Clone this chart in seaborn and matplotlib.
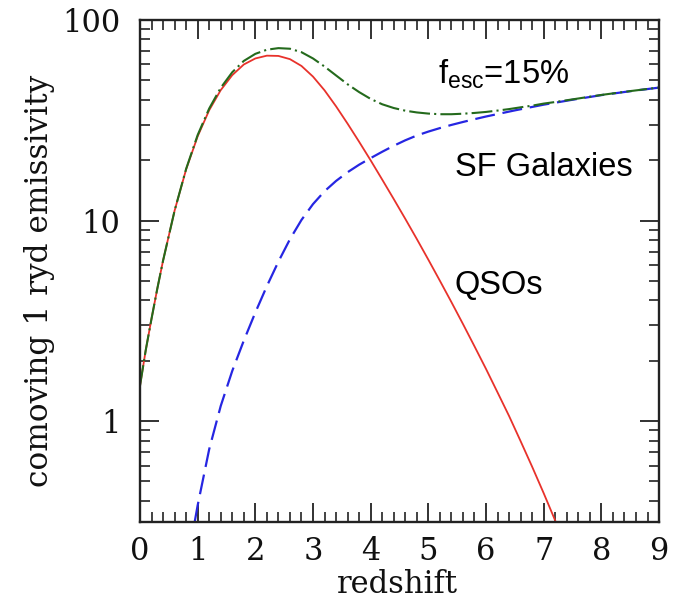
import numpy as np
import pandas as pd
import seaborn as sns
import matplotlib
matplotlib.use("Agg")
import matplotlib.pyplot as plt
from matplotlib.ticker import FixedLocator, LogLocator, NullFormatter, FixedFormatter

# Comoving 1 Ryd emissivity contributions versus redshift
z_qso = [0.0, 0.1, 0.2, 0.3, 0.4, 0.6, 0.8, 1.0, 1.2, 1.4, 1.6, 1.8, 2.0, 2.2,
         2.4, 2.6, 2.8, 3.0, 3.2, 3.4, 3.6, 3.8, 4.0, 4.2, 4.4, 4.6, 4.8, 5.0,
         5.2, 5.4, 5.6, 5.8, 6.0, 6.2, 6.4, 6.6, 6.8, 7.0, 7.2, 7.4]
qso = [1.50, 2.26, 3.24, 4.57, 6.31, 11.2, 18.0, 26.3, 35.5, 44.7, 53.1, 60.0,
       64.3, 66.4, 66.2, 63.8, 59.0, 52.2, 44.6, 37.1, 30.4, 24.7, 19.95, 16.0,
       12.8, 10.2, 8.09, 6.38, 5.01, 3.92, 3.05, 2.36, 1.82, 1.39, 1.06, 0.794,
       0.592, 0.437, 0.319, 0.231]

z_gal = [0.95, 1.0, 1.2, 1.4, 1.6, 1.8, 2.0, 2.2, 2.4, 2.6, 2.8, 3.0, 3.2, 3.4,
         3.6, 3.8, 4.0, 4.2, 4.4, 4.6, 4.8, 5.0, 5.2, 5.4, 5.6, 5.8, 6.0, 6.5,
         7.0, 7.5, 8.0, 8.5, 9.0]
galaxies = [0.316, 0.380, 0.724, 1.19, 1.78, 2.52, 3.48, 4.71, 6.24, 8.07,
            10.07, 12.08, 14.0, 15.76, 17.42, 18.99, 20.49, 22.03, 23.60, 25.13,
            26.55, 27.77, 28.91, 29.98, 31.01, 32.02, 33.02, 35.43, 37.83, 40.03,
            42.21, 44.15, 46.02]

z_tot = [0.0, 0.1, 0.2, 0.3, 0.4, 0.6, 0.8, 1.0, 1.2, 1.4, 1.6, 1.8, 2.0, 2.2,
         2.4, 2.6, 2.8, 3.0, 3.2, 3.4, 3.6, 3.8, 4.0, 4.2, 4.4, 4.6, 4.8, 5.0,
         5.2, 5.4, 5.6, 5.8, 6.0, 6.2, 6.4, 6.6, 6.8, 7.0, 7.2, 7.5, 8.0, 8.5, 9.0]
total = [1.50, 2.26, 3.24, 4.57, 6.31, 11.2, 18.1, 26.7, 36.2, 45.9, 54.9, 62.5,
         67.8, 71.1, 72.4, 71.9, 69.1, 64.3, 58.6, 52.9, 47.8, 43.7, 40.4, 38.0,
         36.4, 35.3, 34.6, 34.15, 33.9, 33.9, 34.1, 34.4, 34.8, 35.35, 35.96,
         36.7, 37.4, 38.3, 39.0, 40.2, 42.3, 44.2, 46.05]

x_ticks = [0, 1, 2, 3, 4, 5, 6, 7, 8, 9]
y_ticks = [1, 10, 100]
y_tick_labels = ["1", "10", "100"]

sns.set_style("ticks")
plt.rcParams["font.family"] = ["DejaVu Serif"]
plt.rcParams["mathtext.fontset"] = "custom"
plt.rcParams["mathtext.rm"] = "Liberation Sans"
plt.rcParams["mathtext.it"] = "Liberation Sans"

fig = plt.figure(figsize=(6.93, 6.06), dpi=100)
ax = fig.add_axes([0.202, 0.1386, 0.749, 0.8284])

df_q = pd.DataFrame({"z": z_qso, "e": qso})
df_g = pd.DataFrame({"z": z_gal, "e": galaxies})
df_t = pd.DataFrame({"z": z_tot, "e": total})

sns.lineplot(data=df_q, x="z", y="e", ax=ax, color="#e8322b", linewidth=1.3)
sns.lineplot(data=df_g, x="z", y="e", ax=ax, color="#2626e2", linewidth=1.6)
ax.lines[-1].set_linestyle((0, (9, 3.5)))
sns.lineplot(data=df_t, x="z", y="e", ax=ax, color="#246a1c", linewidth=1.5)
ax.lines[-1].set_linestyle((0, (10, 2, 1, 2)))

ax.set_yscale("log")
ax.set_xlim(0, 9)
ax.set_ylim(0.314, 100)

ax.xaxis.set_major_locator(FixedLocator(x_ticks))
ax.xaxis.set_minor_locator(FixedLocator(np.arange(0, 9.01, 0.2)))
ax.yaxis.set_major_locator(FixedLocator(y_ticks))
ax.yaxis.set_major_formatter(FixedFormatter(y_tick_labels))
ax.yaxis.set_minor_locator(LogLocator(base=10, subs=np.arange(2, 10)))
ax.yaxis.set_minor_formatter(NullFormatter())

ax.tick_params(which="both", direction="in", top=True, right=True,
               color="#222222", labelsize=22, labelcolor="#111111")
ax.tick_params(which="major", length=14, width=1.3)
ax.tick_params(which="minor", length=7, width=1.2)
ax.tick_params(axis="x", pad=10)
ax.tick_params(axis="y", pad=14)
for s in ax.spines.values():
    s.set_linewidth(1.7)
    s.set_color("#222222")

ax.set_xlabel("redshift", fontsize=22, color="#111111", va="center")
ax.xaxis.set_label_coords(0.495, -0.1235)
ax.set_ylabel("comoving 1 ryd emissivity", fontsize=22.5, color="#111111",
              va="center")
ax.yaxis.set_label_coords(-0.193, 0.48)

ann = dict(family="Liberation Sans", fontsize=23.5, color="black",
           transform=ax.transData)
ax.text(5.17, 48, r"f$_{\rm esc}$=15%", ha="left", va="baseline", **ann)
ax.text(5.46, 18.4, "SF Galaxies", ha="left", va="center", **ann)
ax.text(5.46, 4.75, "QSOs", ha="left", va="center", **ann)

fig.savefig("out.png", dpi=100)
